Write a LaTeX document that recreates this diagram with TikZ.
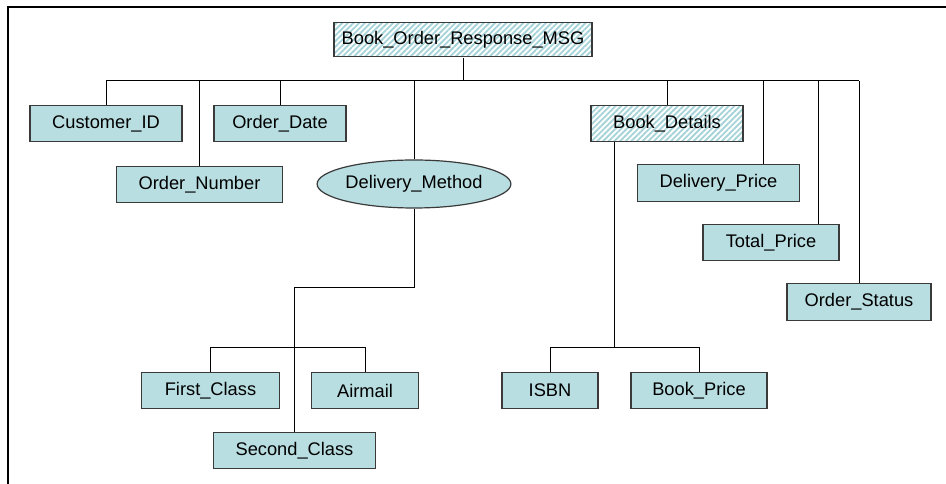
\documentclass[tikz,border=0pt]{standalone}
\usepackage{fontspec}
\setmainfont{Liberation Sans}
\usepackage{tikz}
\usetikzlibrary{
  calc,
  patterns.meta,
  positioning,
  shapes.geometric
}
\definecolor{aqua}{HTML}{B8DEE1}
\definecolor{hatch}{HTML}{A6D3D8}
\definecolor{edge}{HTML}{3A3A3A}
\tikzset{
  field/.style={
    draw=edge,
    line width=0.9pt,
    fill=aqua,
    minimum height=27.5pt,
    inner sep=0pt,
    font=\fontsize{13.7}{16}\selectfont
  },
  group/.style={
    field,
    fill=none,
    pattern={Lines[angle=45,distance=3pt,line width=1.4pt]},
    pattern color=hatch
  },
  choice/.style={field, ellipse, minimum height=36pt},
  link/.style={draw=black, line width=0.75pt},
  frame/.style={draw=black, line width=1.5pt}
}

\begin{document}
\begin{tikzpicture}[x=0.75pt, y=-0.75pt]
  \useasboundingbox (0,0) rectangle (946,484);
  \draw[frame] (8,484) -- (8,7) -- (946,7);

  % message root
  \node[group, minimum width=193.5pt, minimum height=26pt] (msg) at (463,39.5)
    {Book\_Order\_Response\_MSG};

  % first level
  \node[field, minimum width=114pt] (custid) at (106,123.5) {Customer\_ID};
  \node[field, minimum width=124pt] (ordnum) at (199.5,184.5) {Order\_Number};
  \node[field, minimum width=99pt] (orddate) at (280,123.5) {Order\_Date};
  \node[choice, minimum width=144pt] (delmeth) at (414,184) {Delivery\_Method};
  \node[group, minimum width=114pt] (bookdet) at (667,123.5) {Book\_Details};
  \node[field, minimum width=121pt] (delprice) at (718.5,183) {Delivery\_Price};
  \node[field, minimum width=102pt] (totprice) at (771,242.5) {Total\_Price};
  \node[field, minimum width=108pt] (ordstat) at (859,302) {Order\_Status};

  % delivery choices
  \node[field, minimum width=103pt] (first) at (210.5,390.5) {First\_Class};
  \node[field, minimum width=80pt] (airmail) at (365,390.5) {Airmail};
  \node[field, minimum width=121pt] (second) at (294.5,450.5) {Second\_Class};

  % book details
  \node[field, minimum width=72pt] (isbn) at (550,390.5) {ISBN};
  \node[field, minimum width=102pt] (bookprice) at (699,390.5) {Book\_Price};

  \coordinate (bus) at (0,81);
  \coordinate (bend) at (0,288);
  \coordinate (lowbus) at (0,348);
  \coordinate (dptop) at ($(delprice.north)+(44.5,0)$);
  \coordinate (tptop) at ($(totprice.north)+(47,0)$);
  \coordinate (bdout) at ($(bookdet.south)+(-53,0)$);

  \draw[link] (msg.south) -- (msg.south |- bus);
  \draw[link] (custid.north |- bus) -- (ordstat.north |- bus);
  \foreach \kid in {custid, ordnum, orddate, delmeth, bookdet, ordstat}
    \draw[link] (\kid.north) -- (\kid.north |- bus);
  \draw[link] (dptop) -- (dptop |- bus);
  \draw[link] (tptop) -- (tptop |- bus);

  \draw[link] (delmeth.south) -- (delmeth.south |- bend) -| (second.north);
  \draw[link] (first.north) -- (first.north |- lowbus)
    -- (airmail.north |- lowbus) -- (airmail.north);

  \draw[link] (bdout) -- (bdout |- lowbus);
  \draw[link] (isbn.north) -- (isbn.north |- lowbus)
    -- (bookprice.north |- lowbus) -- (bookprice.north);
\end{tikzpicture}
\end{document}
